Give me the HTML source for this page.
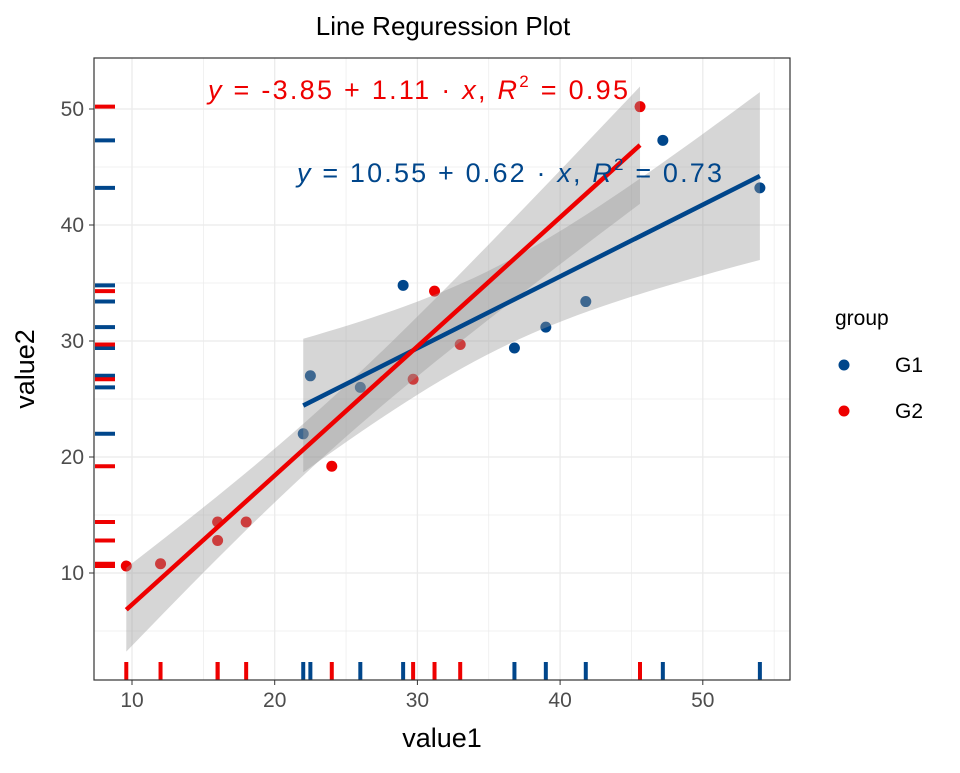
<!DOCTYPE html>
<html><head><meta charset="utf-8"><style>
body{margin:0;background:#fff}
svg text{font-family:"Liberation Sans",sans-serif}
</style></head><body>
<svg id="c" width="960" height="768" xmlns="http://www.w3.org/2000/svg">
<text x="443" y="35" font-size="26" text-anchor="middle" fill="#000">Line Reguression Plot</text>
<rect x="94" y="58" width="696" height="622" fill="#fff"/>
<g id="grid"></g><g id="points"></g><g id="bands"></g><g id="lines"></g><g id="rugs"></g><g id="axes"></g>
<rect x="94" y="58" width="696" height="622" fill="none" stroke="#333" stroke-width="1.2"/>
<text x="442" y="747" font-size="27" text-anchor="middle">value1</text>
<text transform="translate(34,369) rotate(-90)" font-size="27" text-anchor="middle">value2</text>
<text x="208" y="99" font-size="27" fill="#ee0000" textLength="420" lengthAdjust="spacing"><tspan font-style="italic">y</tspan> = -3.85 + 1.11 · <tspan font-style="italic">x</tspan>,   <tspan font-style="italic">R</tspan><tspan font-size="17" dy="-12">2</tspan><tspan dy="12"> = 0.95</tspan></text>
<text x="297" y="182" font-size="27" fill="#00468b" textLength="425" lengthAdjust="spacing"><tspan font-style="italic">y</tspan> = 10.55 + 0.62 · <tspan font-style="italic">x</tspan>,   <tspan font-style="italic">R</tspan><tspan font-size="17" dy="-12">2</tspan><tspan dy="12"> = 0.73</tspan></text>
<g>
<text x="835" y="325" font-size="21">group</text>
<circle cx="844" cy="365" r="5.5" fill="#00468b"/>
<text x="895" y="372" font-size="21">G1</text>
<circle cx="844" cy="411" r="5.5" fill="#ee0000"/>
<text x="895" y="418" font-size="21">G2</text>
</g>
</svg>
<script>
const g1x=[22,22.5,26,29,36.8,39,41.8,47.2,54];
const g1y=[22,27,26,34.8,29.4,31.2,33.4,47.3,43.2];
const g2x=[9.6,12,16,16,18,24,29.7,31.2,33,45.6];
const g2y=[10.6,10.8,14.4,12.8,14.4,19.2,26.7,34.3,29.7,50.2];
const xTicks=[10,20,30,40,50];
const yTicks=[10,20,30,40,50];
const X=v=>132+(v-10)*14.27;
const Y=v=>573-(v-10)*11.6;
const NS="http://www.w3.org/2000/svg";
function mk(p,t,a){const e=document.createElementNS(NS,t);for(const k in a)e.setAttribute(k,a[k]);document.getElementById(p).appendChild(e);return e;}
for(let v=5;v<=55;v+=5){if(X(v)<94||X(v)>790)continue;const major=v%10===0;
 const l=mk('grid','line',{x1:X(v),x2:X(v),y1:58,y2:680,stroke:'#ebebeb','stroke-width':major?1.3:0.7});
 }
for(let v=5;v<=55;v+=5){if(Y(v)<58||Y(v)>680)continue;const major=v%10===0;
 const l=mk('grid','line',{y1:Y(v),y2:Y(v),x1:94,x2:790,stroke:'#ebebeb','stroke-width':major?1.3:0.7});
 }
xTicks.forEach(v=>{const t=mk('axes','text',{x:X(v),y:707,'font-size':21,'text-anchor':'middle',fill:'#4d4d4d'});t.textContent=v;
 
 const k=mk('axes','line',{x1:X(v),x2:X(v),y1:680,y2:685,stroke:'#333'});});
yTicks.forEach(v=>{const t=mk('axes','text',{x:84,y:Y(v)+7,'font-size':21,'text-anchor':'end',fill:'#4d4d4d'});t.textContent=v;
 
 const k=mk('axes','line',{x1:89,x2:94,y1:Y(v),y2:Y(v),stroke:'#333'});});
function series(xs,ys,col,name){
 xs.forEach((x,i)=>{const c=mk('points','circle',{cx:X(x),cy:Y(ys[i]),r:5.5,fill:col});
  
  const r1=mk('rugs','line',{x1:X(x),x2:X(x),y1:662,y2:680,stroke:col,'stroke-width':4});
  
  const r2=mk('rugs','line',{x1:95,x2:115,y1:Y(ys[i]),y2:Y(ys[i]),stroke:col,'stroke-width':4});
  });
 const n=xs.length,mx=xs.reduce((a,b)=>a+b)/n,my=ys.reduce((a,b)=>a+b)/n;
 let sxx=0,sxy=0;xs.forEach((x,i)=>{sxx+=(x-mx)**2;sxy+=(x-mx)*(ys[i]-my);});
 const b=sxy/sxx,a=my-b*mx;let sse=0;xs.forEach((x,i)=>{sse+=(ys[i]-a-b*x)**2;});
 const s=Math.sqrt(sse/(n-2)),t=n===9?2.365:2.306;
 const x0=Math.min(...xs),x1=Math.max(...xs);const up=[],lo=[];
 for(let k=0;k<=40;k++){const x=x0+(x1-x0)*k/40,f=a+b*x,h=t*s*Math.sqrt(1/n+(x-mx)**2/sxx);
  up.push(X(x)+','+Y(f+h));lo.unshift(X(x)+','+Y(f-h));}
 const p=mk('bands','polygon',{points:up.concat(lo).join(' '),fill:'#999','fill-opacity':0.4});
 
 const l=mk('lines','line',{x1:X(x0),y1:Y(a+b*x0),x2:X(x1),y2:Y(a+b*x1),stroke:col,'stroke-width':4.5});
 }
series(g1x,g1y,'#00468b','g1');
series(g2x,g2y,'#ee0000','g2');
</script>
</body></html>
